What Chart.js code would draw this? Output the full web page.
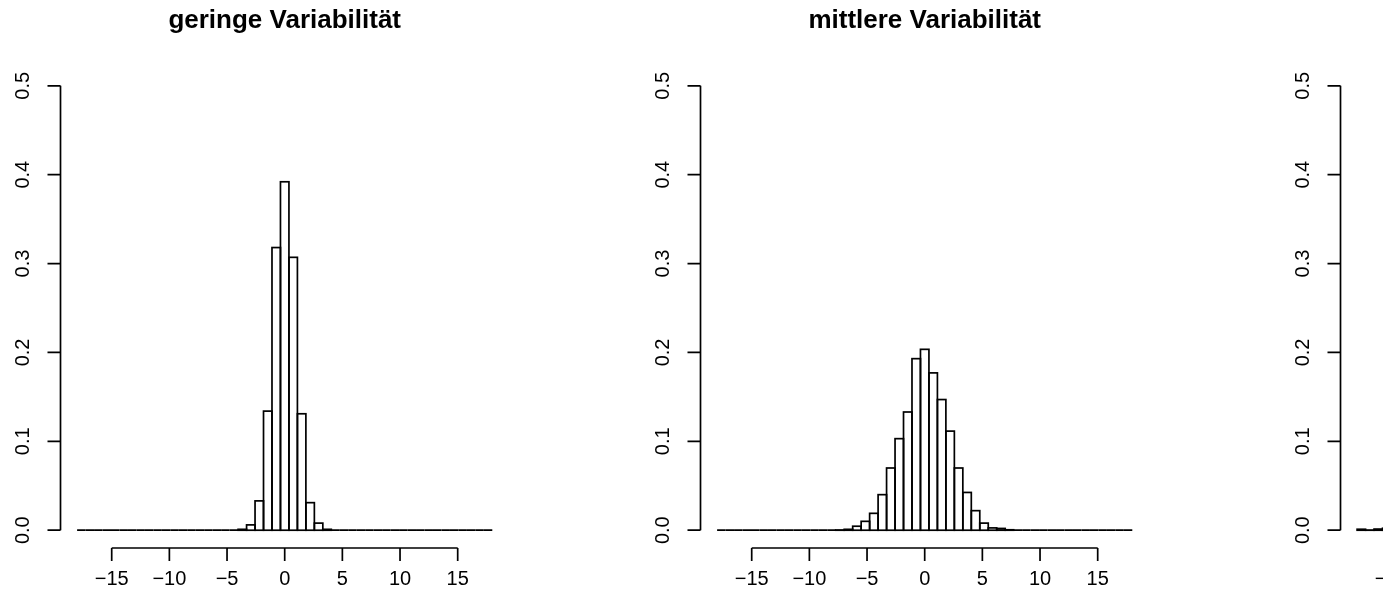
<!DOCTYPE html>
<html>
<head>
<meta charset="utf-8">
<script src="https://cdn.jsdelivr.net/npm/chart.js@4.4.0/dist/chart.umd.min.js"></script>
<style>
  html, body { margin: 0; padding: 0; background: #fff; overflow: hidden; width: 1383px; height: 597px; }
  .panel { position: absolute; top: 0; width: 640px; height: 597px; }
</style>
</head>
<body>
<div class="panel" style="left:0px"><canvas id="c1" width="640" height="597"></canvas></div>
<div class="panel" style="left:640px"><canvas id="c2" width="640" height="597"></canvas></div>
<div class="panel" style="left:1280px"><canvas id="c3" width="640" height="597"></canvas></div>
<script>
// histogram breaks: 49 equal bins from -18 to 18
const binStart = -18, binEnd = 18, binCount = 49;
const xTicks = [-15, -10, -5, 0, 5, 10, 15];
const yTicks = [0, 0.1, 0.2, 0.3, 0.4, 0.5];
const titles = ['geringe Variabilität', 'mittlere Variabilität', 'hohe Variabilität'];

// densities per bin (left to right)
const geringe = [
  0, 0, 0, 0, 0, 0, 0, 0, 0, 0, 0, 0, 0, 0, 0, 0, 0, 0, 0,
  0.001, 0.006, 0.033, 0.134, 0.318, 0.392, 0.307, 0.131, 0.031, 0.008, 0.001,
  0, 0, 0, 0, 0, 0, 0, 0, 0, 0, 0, 0, 0, 0, 0, 0, 0, 0, 0
];
const mittlere = [
  0, 0, 0, 0, 0, 0, 0, 0, 0, 0, 0, 0, 0, 0,
  0.0003, 0.001, 0.0045, 0.010, 0.019, 0.040, 0.070, 0.103, 0.133, 0.193, 0.2035,
  0.177, 0.147, 0.1115, 0.070, 0.0425, 0.022, 0.008, 0.0026, 0.002, 0.0005,
  0, 0, 0, 0, 0, 0, 0, 0, 0, 0, 0, 0, 0, 0
];
// mostly outside the visible picture, rough estimate
const hohe = [
  0.0011, 0.0002, 0.0013, 0.0022, 0.0030, 0.0046, 0.0052, 0.0075, 0.0096, 0.0128,
  0.0141, 0.0185, 0.0221, 0.0270, 0.0305, 0.0362, 0.0409, 0.0458, 0.0517, 0.0546,
  0.0593, 0.0627, 0.0641, 0.0662, 0.0655, 0.0649, 0.0638, 0.0611, 0.0588, 0.0556,
  0.0503, 0.0467, 0.0412, 0.0354, 0.0312, 0.0264, 0.0228, 0.0179, 0.0149, 0.0119,
  0.0101, 0.0070, 0.0057, 0.0041, 0.0033, 0.0021, 0.0018, 0.0011, 0.0008
];

const binWidth = (binEnd - binStart) / binCount;
const binCenters = Array.from({length: binCount}, (_, i) => binStart + binWidth * (i + 0.5));

// R adds 4% on each side of the data range
const xPad = (binEnd - binStart) * 0.04;
const yPad = (yTicks[yTicks.length - 1] - yTicks[0]) * 0.04;

const font = '"Liberation Sans", Arial, Helvetica, sans-serif';

const baseRStyle = {
  id: 'baseRStyle',
  afterDraw(chart) {
    const ctx = chart.ctx;
    const area = chart.chartArea;
    const sx = chart.scales.x, sy = chart.scales.y;
    ctx.save();
    ctx.strokeStyle = '#000';
    ctx.fillStyle = '#000';
    ctx.lineWidth = 1.7;

    // bar outlines (also draws the empty bins as a flat line)
    chart.getDatasetMeta(0).data.forEach(bar => {
      const p = bar.getProps(['x', 'y', 'base', 'width'], true);
      ctx.strokeRect(p.x - p.width / 2, Math.min(p.y, p.base), p.width, Math.abs(p.base - p.y));
    });

    // y axis
    const yTop = sy.getPixelForValue(yTicks[yTicks.length - 1]);
    const yBot = sy.getPixelForValue(yTicks[0]);
    ctx.beginPath();
    ctx.moveTo(area.left, yBot);
    ctx.lineTo(area.left, yTop);
    yTicks.forEach(v => {
      const py = sy.getPixelForValue(v);
      ctx.moveTo(area.left, py);
      ctx.lineTo(area.left - 13, py);
    });
    ctx.stroke();
    ctx.font = '20px ' + font;
    ctx.textAlign = 'center';
    ctx.textBaseline = 'alphabetic';
    yTicks.forEach(v => {
      const py = sy.getPixelForValue(v);
      ctx.save();
      ctx.translate(29, py);
      ctx.rotate(-Math.PI / 2);
      ctx.fillText(v.toFixed(1), 0, 0);
      ctx.restore();
    });

    // x axis
    const xl = sx.getPixelForValue(xTicks[0]);
    const xr = sx.getPixelForValue(xTicks[xTicks.length - 1]);
    ctx.beginPath();
    ctx.moveTo(xl, area.bottom);
    ctx.lineTo(xr, area.bottom);
    xTicks.forEach(v => {
      const px = sx.getPixelForValue(v);
      ctx.moveTo(px, area.bottom);
      ctx.lineTo(px, area.bottom + 13);
    });
    ctx.stroke();
    xTicks.forEach(v => {
      ctx.fillText(String(v).replace('-', '\u2212'), sx.getPixelForValue(v), 585);
    });

    // title
    ctx.font = 'bold 26px ' + font;
    ctx.fillText(chart.options.plugins.rTitle, (area.left + area.right) / 2, 28);
    ctx.restore();
  }
};

function histChart(id, values, title) {
  return new Chart(document.getElementById(id), {
    type: 'bar',
    data: {
      datasets: [{
        data: binCenters.map((x, i) => ({x: x, y: values[i]})),
        backgroundColor: '#ffffff',
        borderWidth: 0,
        barPercentage: 1,
        categoryPercentage: 1
      }]
    },
    options: {
      responsive: false,
      animation: false,
      devicePixelRatio: 1,
      layout: { padding: { left: 60.5, right: 131.1, top: 68, bottom: 49 } },
      scales: {
        x: { type: 'linear', min: binStart - xPad, max: binEnd + xPad, offset: false, display: false },
        y: { min: yTicks[0] - yPad, max: yTicks[yTicks.length - 1] + yPad, display: false }
      },
      plugins: {
        legend: { display: false },
        tooltip: { enabled: false },
        rTitle: title
      }
    },
    plugins: [baseRStyle]
  });
}

histChart('c1', geringe, titles[0]);
histChart('c2', mittlere, titles[1]);
histChart('c3', hohe, titles[2]);
</script>
</body>
</html>
